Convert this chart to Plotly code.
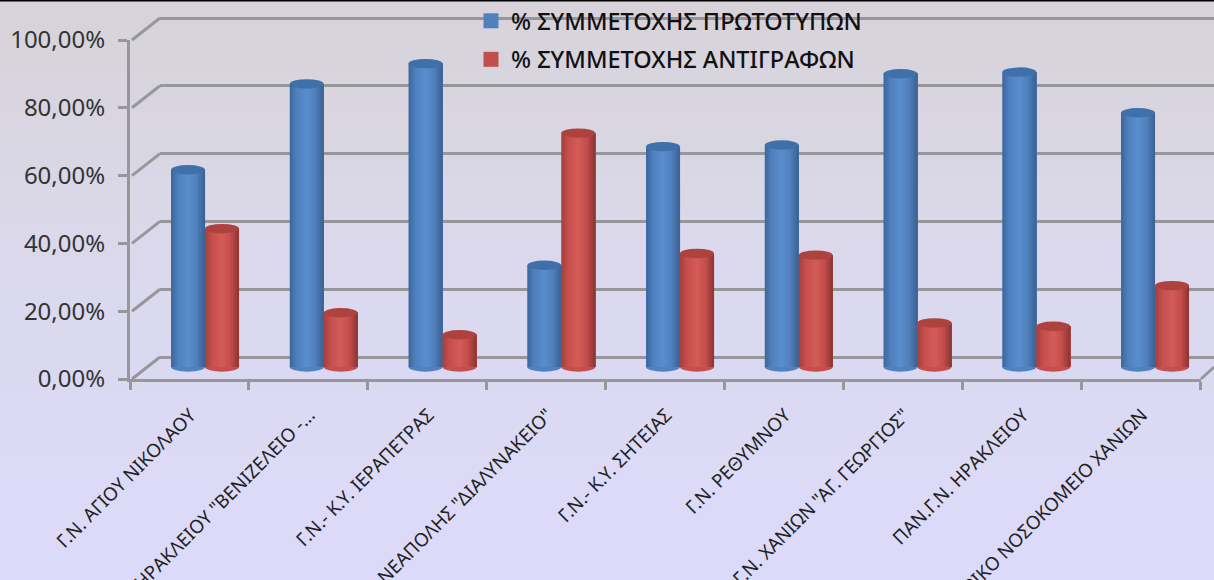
import plotly.graph_objects as go

categories = ['Γ.Ν. ΑΓΙΟΥ ΝΙΚΟΛΑΟΥ', 'Γ.Ν. ΗΡΑΚΛΕΙΟΥ "ΒΕΝΙΖΕΛΕΙΟ -...', 'Γ.Ν.- Κ.Υ. ΙΕΡΑΠΕΤΡΑΣ',
              'Γ.Ν. ΝΕΑΠΟΛΗΣ "ΔΙΑΛΥΝΑΚΕΙΟ"', 'Γ.Ν.- Κ.Υ. ΣΗΤΕΙΑΣ', 'Γ.Ν. ΡΕΘΥΜΝΟΥ',
              'Γ.Ν. ΧΑΝΙΩΝ "ΑΓ. ΓΕΩΡΓΙΟΣ"', 'ΠΑΝ.Γ.Ν. ΗΡΑΚΛΕΙΟΥ', 'ΙΑΤΡΙΚΟ ΝΟΣΟΚΟΜΕΙΟ ΧΑΝΙΩΝ']
originals = [58.2, 83.5, 89.5, 30.0, 65.0, 65.5, 86.5, 87.0, 75.0]
copies = [40.8, 16.0, 9.5, 69.0, 33.5, 33.0, 13.0, 12.0, 24.0]
series_names = ['% ΣΥΜΜΕΤΟΧΗΣ ΠΡΩΤΟΤΥΠΩΝ', '% ΣΥΜΜΕΤΟΧΗΣ ΑΝΤΙΓΡΑΦΩΝ']
y_ticks = [0, 20, 40, 60, 80, 100]
y_labels = ['0,00%', '20,00%', '40,00%', '60,00%', '80,00%', '100,00%']

W, H = 1214, 580
px = lambda x: x / W
py = lambda y: (H - y) / H
UNIT = 3.39          # pixels per percentage point
CAT_W = 118.75       # pixels per category
BAR_W = 34 / CAT_W


def mix(stops, t):
    for (a, ca), (b, cb) in zip(stops, stops[1:]):
        if a <= t <= b:
            f = (t - a) / (b - a)
            return tuple(round(ca[k] + (cb[k] - ca[k]) * f) for k in range(3))
    return stops[-1][1]


blue_shade = [(0, (60, 102, 155)), (0.2, (78, 128, 190)), (0.5, (90, 141, 205)), (0.75, (80, 128, 188)), (1, (58, 96, 145))]
red_shade = [(0, (160, 64, 62)), (0.2, (198, 78, 75)), (0.5, (211, 92, 89)), (0.75, (196, 78, 75)), (1, (138, 52, 50))]
n_strips = 17

fig = go.Figure()

# back wall subplot (gridlines)
fig.add_trace(go.Scatter(x=[0], y=[None], xaxis='x', yaxis='y', showlegend=False, hoverinfo='skip'))
# front axes subplot (labels)
fig.add_trace(go.Scatter(x=categories, y=[None] * len(categories), xaxis='x2', yaxis='y2', showlegend=False, hoverinfo='skip'))

# cylinder bars, drawn as narrow shaded strips
for values, shade, start in ((originals, blue_shade, -BAR_W), (copies, red_shade, 0.0)):
    for i in range(n_strips):
        w = BAR_W / n_strips
        colour = 'rgb(%d,%d,%d)' % mix(shade, (i + 0.5) / n_strips)
        span = BAR_W - i * w
        fig.add_trace(go.Bar(x=categories, y=values, xaxis='x3', yaxis='y3',
                             width=span, offset=start + i * w,
                             marker=dict(color=colour, line=dict(width=0)),
                             showlegend=False, hoverinfo='skip'))

# legend entries
for name, colour in zip(series_names, ('#4F81BD', '#C0504D')):
    fig.add_trace(go.Scatter(x=[0], y=[None], xaxis='x', yaxis='y', name=name, mode='markers',
                             legendgroup=name,
                             marker=dict(symbol='square', size=15, color=colour)))

shapes = []
# background gradient
stops = [(0, (216, 211, 218)), (130, (217, 214, 226)), (300, (219, 217, 239)), (581, (220, 218, 250))]
for y in range(0, H, 10):
    shapes.append(dict(type='rect', xref='paper', yref='paper', x0=0, x1=1, y0=py(y + 11), y1=py(y),
                       fillcolor='rgb(%d,%d,%d)' % mix(stops, y), line=dict(width=0), layer='below'))

GRID = '#97979B'
FRONT_ZERO = 379
BACK_ZERO = 357
# side wall diagonals
for t in y_ticks:
    shapes.append(dict(type='line', xref='paper', yref='paper', x0=px(132), x1=px(160),
                       y0=py(FRONT_ZERO - UNIT * t), y1=py(BACK_ZERO - UNIT * t),
                       line=dict(color=GRID, width=3), layer='below'))
# right-hand floor edge
shapes.append(dict(type='line', xref='paper', yref='paper', x0=px(1201), x1=px(1214), y0=py(FRONT_ZERO), y1=py(367),
                   line=dict(color=GRID, width=3), layer='below'))
# top frame line
shapes.append(dict(type='line', xref='paper', yref='paper', x0=0, x1=1, y0=py(0.5), y1=py(0.5),
                   line=dict(color='#000000', width=2), layer='above'))

# cylinder caps and rounded bases
half = 4.7 / UNIT
for idx, cat in enumerate(categories):
    for values, start, cap, base in ((originals, -BAR_W, '#3F70AA', '#4F83C0'), (copies, 0.0, '#AE423F', '#C44F4C')):
        x0, x1 = idx + start, idx + start + BAR_W
        shapes.append(dict(type='circle', xref='x3', yref='y3', x0=x0, x1=x1, y0=values[idx] - half, y1=values[idx] + half,
                           fillcolor=cap, line=dict(width=0), layer='above'))
        shapes.append(dict(type='circle', xref='x3', yref='y3', x0=x0, x1=x1, y0=-half, y1=half,
                           fillcolor=base, line=dict(width=0), layer='below'))

FONT = 'Noto Sans'
PAD = 5   # percentage points of spare axis below the lowest gridline, so the end lines are drawn
fig.update_layout(
    width=W, height=H, margin=dict(l=0, r=0, t=0, b=0, pad=0, autoexpand=False), autosize=False,
    paper_bgcolor='#DCDAF8', plot_bgcolor='rgba(0,0,0,0)', barmode='overlay',
    shapes=shapes,
    font=dict(family=FONT, color='#222222'),
    showlegend=True,
    legend=dict(x=px(471), y=py(-1), xanchor='left', yanchor='top', bgcolor='rgba(0,0,0,0)',
                font=dict(family=FONT, size=23.5, color='#111111', weight=500), tracegroupgap=5,
                itemclick=False, itemdoubleclick=False),
    xaxis=dict(domain=[px(160), 1], range=[0, 1], visible=False, automargin=False),
    yaxis=dict(domain=[py(BACK_ZERO + PAD * UNIT), 1],
               range=[-PAD, BACK_ZERO / UNIT], tickvals=y_ticks, showgrid=True, gridcolor=GRID, gridwidth=3,
               zeroline=False, showticklabels=False, ticks='', showline=False, anchor='x', automargin=False),
    xaxis2=dict(domain=[px(130), px(1200.5)], type='category', categoryorder='array', categoryarray=categories,
                range=[-0.5, 8.5], anchor='y2', tickson='boundaries', ticks='outside', ticklen=8, tickwidth=3, tickcolor=GRID,
                showline=True, linecolor=GRID, linewidth=3, showgrid=False, tickangle=-45, automargin=False,
                ticklabelstandoff=15, ticklabelshift=1,
                tickfont=dict(family=FONT, size=18.6, color='#222222'), fixedrange=True),
    yaxis2=dict(domain=[py(FRONT_ZERO), py(FRONT_ZERO - 100 * UNIT)], range=[0, 100], tickvals=y_ticks, ticktext=y_labels, anchor='x2',
                ticks='outside', ticklen=9, tickwidth=3, tickcolor=GRID, showline=True, linecolor=GRID, linewidth=3,
                showgrid=False, zeroline=False, ticklabelstandoff=8, automargin=False,
                tickfont=dict(family=FONT, size=24, color='#333333'), fixedrange=True),
    xaxis3=dict(domain=[px(205 - CAT_W / 2), 1], type='category', categoryorder='array', categoryarray=categories,
                range=[-0.5, -0.5 + (W - (205 - CAT_W / 2)) / CAT_W], anchor='y3', visible=False, fixedrange=True, automargin=False),
    yaxis3=dict(domain=[py(377), 1], range=[-10 / UNIT, 367 / UNIT], anchor='x3', visible=False, fixedrange=True, automargin=False),
)

fig.write_html('out.html', post_script="document.body.style.margin='0';document.body.style.overflow='hidden';",
               config={'displayModeBar': False})
